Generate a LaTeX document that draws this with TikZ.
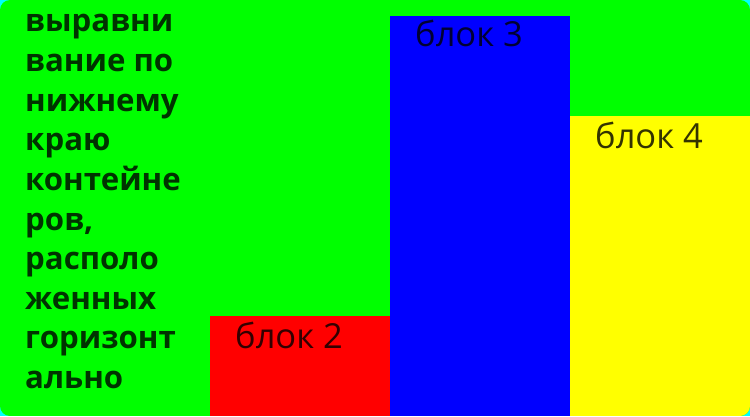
\documentclass[tikz,border=0pt]{standalone}
\usepackage{fontspec}
\setmainfont{Open Sans}
\definecolor{bgg}{RGB}{0,255,0}
\definecolor{bgc}{RGB}{0,255,255}
\definecolor{rr}{RGB}{255,0,0}
\definecolor{bb}{RGB}{0,0,255}
\definecolor{yy}{RGB}{255,255,0}
\begin{document}
\begin{tikzpicture}[x=1pt,y=1pt,
  blk/.style={inner sep=0pt, anchor=base west, font=\fontsize{34.5}{38}\selectfont, text=black, text opacity=0.8},
  lefttxt/.style={inner sep=0pt, anchor=base west, font=\fontsize{31.2}{38}\selectfont\bfseries, text=black, text opacity=0.8}]
\fill[bgc] (0,0) rectangle (750,416);
\useasboundingbox (0,0) rectangle (750,416);
\begin{scope}
\clip[rounded corners=10pt] (0,0) rectangle (750,416);
\fill[bgg] (0,0) rectangle (750,416);
\fill[rr] (210,0) rectangle (390,100);
\fill[bb] (390,0) rectangle (570,400);
\fill[yy] (570,0) rectangle (750,300);
\end{scope}
\node[blk] (b2) at (235,68) {блок 2};
\node[blk] (b3) at (415,369) {блок 3};
\node[blk] (b4) at (595,268) {блок 4};
\foreach \t [count=\i] in {выравни, вание по, нижнему, краю, контейне, {ров,}, располо, женных, горизонт, ально}{
  \node[lefttxt] (l\i) at (25,{416-32-39.6*(\i-1)}) {\t};
}
\end{tikzpicture}
\end{document}
